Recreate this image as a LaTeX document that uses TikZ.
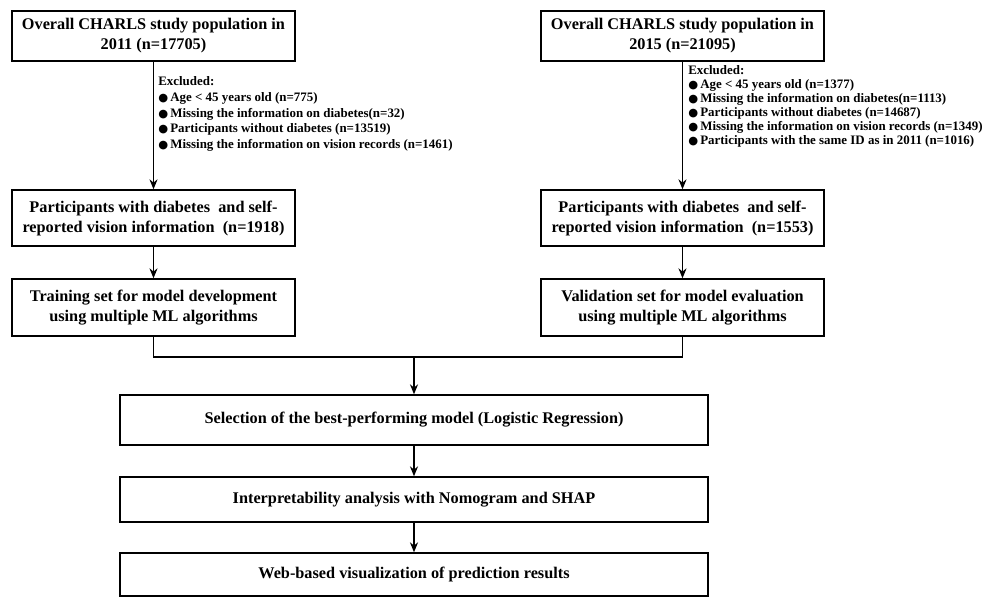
\documentclass[tikz,border=0pt]{standalone}
\usepackage{fontspec}
\setmainfont{Liberation Serif}
\newfontfamily\dotfont{DejaVu Sans}
\usetikzlibrary{arrows.meta,positioning}
\newcommand{\blt}{{\dotfont\fontsize{8.5}{8.5}\selectfont ●}\,}
\begin{document}
\begin{tikzpicture}[x=0.75pt,y=-0.75pt,
  box/.style={draw,line width=1pt,align=center,inner sep=0pt,
    font=\bfseries\fontsize{12.2}{15}\selectfont},
  sidebox/.style={box,minimum width=212.25pt,minimum height=42pt},
  excl/.style={anchor=north west,align=left,inner sep=0pt,
    font=\bfseries\fontsize{9.7}{11.8}\selectfont},
  arr/.style={-{Stealth[length=7.5pt,width=6pt]},line width=0.9pt}]
\useasboundingbox (0,0) rectangle (986,597);
\node[box,minimum width=212.25pt,minimum height=37.5pt] (pop11) at (153.5,36)
  {Overall CHARLS study population in\\2011 (n=17705)};
\node[box,minimum width=212.25pt,minimum height=37.5pt] (pop15) at (682.5,36)
  {Overall CHARLS study population in\\2015 (n=21095)};
\node[sidebox] (diab11) at (153.5,218)
  {Participants with diabetes\ \ and self-\\reported vision information\ \ (n=1918)};
\node[sidebox] (diab15) at (682.5,218)
  {Participants with diabetes\ \ and self-\\reported vision information\ \ (n=1553)};
\node[sidebox,minimum height=42.75pt] (train) at (153.5,307.5)
  {Training set for model development\\using multiple ML algorithms};
\node[sidebox,minimum height=42.75pt] (valid) at (682.5,307.5)
  {Validation set for model evaluation\\using multiple ML algorithms};
\node[box,minimum width=441pt,minimum height=37.5pt] (select) at (414,420)
  {Selection of the best-performing model (Logistic Regression)};
\node[box,minimum width=441pt,minimum height=33.75pt] (interp) at (414,499.5)
  {Interpretability analysis with Nomogram and SHAP};
\node[box,minimum width=441pt,minimum height=32.25pt] (web) at (414,574.5)
  {Web-based visualization of prediction results};

\node[excl] (excl11) at (158,76.5) {Excluded:\\
  \blt Age < 45 years old (n=775)\\
  \blt Missing the information on diabetes(n=32)\\
  \blt Participants without diabetes (n=13519)\\
  \blt Missing the information on vision records (n=1461)};
\node[excl,font=\bfseries\fontsize{9.7}{10.5}\selectfont] (excl15) at (688,65.5) {Excluded:\\
  \blt Age < 45 years old (n=1377)\\
  \blt Missing the information on diabetes(n=1113)\\
  \blt Participants without diabetes (n=14687)\\
  \blt Missing the information on vision records (n=1349)\\
  \blt Participants with the same ID as in 2011 (n=1016)};

\draw[arr] (pop11) -- (diab11);
\draw[arr] (pop15) -- (diab15);
\draw[arr] (diab11) -- (train);
\draw[arr] (diab15) -- (valid);
\coordinate (merge) at (414,357);
\draw[line width=0.9pt] (train.south) |- (merge) -| (valid.south);
\draw[arr] (merge) -- (select);
\draw[arr] (select) -- (interp);
\draw[arr] (interp) -- (web);
\end{tikzpicture}
\end{document}
